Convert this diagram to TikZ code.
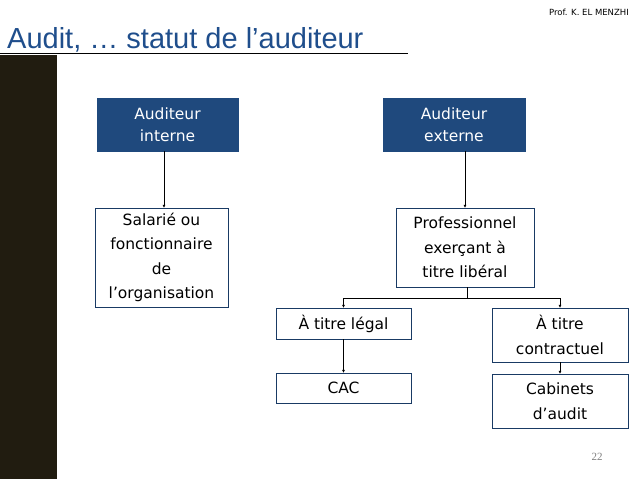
\documentclass[tikz,border=0pt]{standalone}
\usepackage{fontspec}
\setmainfont{DejaVu Sans}
\newfontfamily\arialf{Liberation Sans}
\newfontfamily\timesf{Liberation Serif}
\usetikzlibrary{arrows.meta}
\definecolor{tblue}{HTML}{1F4E8C}
\definecolor{bfill}{HTML}{1F497D}
\definecolor{bar}{HTML}{211C10}
\begin{document}
\begin{tikzpicture}[x=1pt,y=-1pt,
  bluebox/.style={fill=bfill,draw=bfill,text=white,font=\fontsize{15.5}{22}\selectfont,align=center,inner sep=0},
  wbox/.style={draw=bfill!80!black,fill=white,text=black,font=\fontsize{15.5}{24.5}\selectfont,align=center,inner sep=0},
  arr/.style={-{Latex[length=3pt,width=3pt]},line width=0.6pt}]
\useasboundingbox (0,0) rectangle (638,479);
\fill[white] (0,0) rectangle (638,479);
\fill[bar] (0,55) rectangle (57,479);
\draw[line width=1.2pt] (0,53.5) -- (408,53.5);
\node[anchor=base west,text=tblue,font=\arialf\fontsize{29}{32}\selectfont,inner sep=0] (title) at (7,48) {Audit, … statut de l’auditeur};
\node[anchor=base east,font=\fontsize{8.5}{10}\selectfont,inner sep=0] (prof) at (629,16) {Prof. K. EL MENZHI};
\node[anchor=base,text=gray,font=\timesf\fontsize{11}{12}\selectfont,inner sep=0] (pg) at (597,460) {22};
\node[bluebox,minimum width=141,minimum height=53] (ai) at (167.5,124.5) {Auditeur\\interne};
\node[bluebox,minimum width=142,minimum height=53] (ae) at (454,124.5) {Auditeur\\externe};
\node[wbox,minimum width=133,minimum height=99] (sal) at (161.5,257.5) {Salarié ou\\fonctionnaire\\de\\l’organisation};
\node[wbox,minimum width=138,minimum height=79] (pro) at (465,247.5) {Professionnel\\exerçant à\\titre libéral};
\node[wbox,minimum width=135,minimum height=31] (leg) at (343.5,323.5) {À titre légal};
\node[wbox,minimum width=136,minimum height=54] (con) at (560,335) {À titre\\contractuel};
\node[wbox,minimum width=135,minimum height=30] (cac) at (343.5,388) {CAC};
\node[wbox,minimum width=136,minimum height=54] (cab) at (560,401) {Cabinets\\d’audit};
\coordinate (j) at (467,298);
\draw[arr] (ai.south -| 164,0) -- (sal.north -| 164,0);
\draw[arr] (ae.south -| 465,0) -- (pro.north -| 465,0);
\draw[line width=0.6pt] (pro.south -| j) -- (j);
\draw[arr] (j) -| (leg.north);
\draw[arr] (j) -| (con.north);
\draw[arr] (leg) -- (cac);
\draw[arr] (con) -- (cab);
\end{tikzpicture}
\end{document}
